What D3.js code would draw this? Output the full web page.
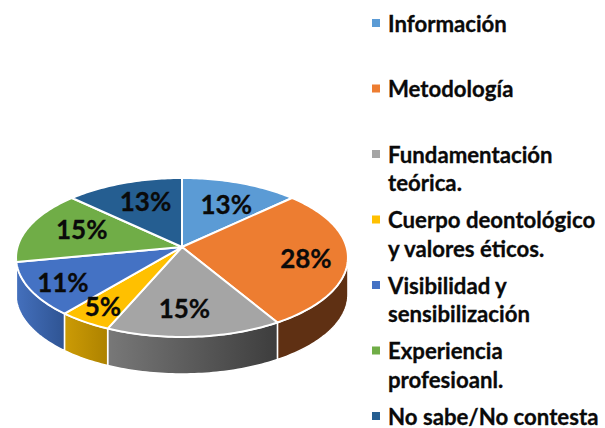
<!DOCTYPE html>
<html>
<head>
<meta charset="utf-8">
<script src="https://cdn.jsdelivr.net/npm/d3@7"></script>
<style>
html, body { margin: 0; padding: 0; background: #fff; overflow: hidden; }
text { font-family: Lato, "Open Sans", sans-serif; font-weight: 700; fill: #0a0a0a; stroke: #0a0a0a; stroke-width: 0.3px; }
</style>
</head>
<body>
<div id="chart"></div>
<script>
var categories = ["Información", "Metodología", "Fundamentación teórica.", "Cuerpo deontológico y valores éticos.", "Visibilidad y sensibilización", "Experiencia profesioanl.", "No sabe/No contesta"];
var legendLines = [["Información"], ["Metodología"], ["Fundamentación", "teórica."], ["Cuerpo deontológico", "y valores éticos."], ["Visibilidad y", "sensibilización"], ["Experiencia", "profesioanl."], ["No sabe/No contesta"]];
var percents = [13, 28.4, 15.1, 4.6, 10.9, 15, 13];
var colors = ["#5b9bd5", "#ed7d31", "#a5a5a5", "#ffc000", "#4472c4", "#70ad47", "#255e91"];
var sideStart = ["#3a6d9c", "#5f3013", "#787878", "#cc9b05", "#4470bd", "#4a7330", "#1a4266"];
var sideEnd = ["#3a6d9c", "#5f3013", "#3d3d3d", "#ad8200", "#2f5493", "#4a7330", "#1a4266"];
// how far out along the radius each % label sits, then a small hand nudge
var labelRadius = [0.72, 0.75, 0.7, 0.82, 0.82, 0.65, 0.6];
var labelDx = [1, 0, -6, -1, 4, 0, 0];
var labelDy = [5, 3, 2, 0, 1, -4, -5];

var width = 605, height = 428;
var persp = 0.132, depth = 37;

var svg = d3.select("#chart").append("svg")
  .attr("width", width)
  .attr("height", height);

var xScale = d3.scaleLinear().domain([-1, 1]).range([17.5, 346.5]);
var yScale = d3.scaleLinear().domain([-1, 1]).range([168.9, 325.1]);

// circle point -> tilted disc, a bit bigger towards the viewer
function project(angle, r) {
  var u = Math.sin(angle) * r,
      v = -Math.cos(angle) * r,
      s = 1 / (1 - persp * v);
  return [xScale(u * s), yScale(v * s)];
}

function arcAngles(a0, a1) {
  var n = Math.max(2, Math.ceil((a1 - a0) / 0.02));
  return d3.range(n + 1).map(function(i) { return a0 + (a1 - a0) * i / n; });
}

var line = d3.line().curve(d3.curveLinearClosed);

var pie = d3.pie().sort(null).value(function(d) { return d; });
var slices = pie(percents);

var defs = svg.append("defs");
slices.forEach(function(d, i) {
  var g = defs.append("linearGradient").attr("id", "side" + i);
  g.append("stop").attr("offset", "0%").attr("stop-color", sideStart[i]);
  g.append("stop").attr("offset", "100%").attr("stop-color", sideEnd[i]);
});

// rim faces the viewer only on the front half
var frontFrom = Math.PI / 2 + Math.asin(persp),
    frontTo = 3 * Math.PI / 2 - Math.asin(persp);

svg.append("g").selectAll("path")
  .data(slices.filter(function(d) {
    return d.endAngle > frontFrom && d.startAngle < frontTo;
  }))
  .enter().append("path")
  .attr("d", function(d) {
    var a0 = Math.max(d.startAngle, frontFrom),
        a1 = Math.min(d.endAngle, frontTo);
    var top = arcAngles(a0, a1).map(function(a) { return project(a, 1); });
    var bottom = top.slice().reverse().map(function(p) { return [p[0], p[1] + depth]; });
    return line(top.concat(bottom));
  })
  .attr("fill", function(d) { return "url(#side" + d.index + ")"; })
  .attr("stroke", "#fff")
  .attr("stroke-width", 1.5)
  .attr("stroke-linejoin", "round");

svg.append("g").selectAll("path")
  .data(slices)
  .enter().append("path")
  .attr("d", function(d) {
    var pts = arcAngles(d.startAngle, d.endAngle).map(function(a) { return project(a, 1); });
    pts.unshift(project(0, 0));
    return line(pts);
  })
  .attr("fill", function(d) { return colors[d.index]; })
  .attr("stroke", "#fff")
  .attr("stroke-width", 2)
  .attr("stroke-linejoin", "round");

svg.append("g").selectAll("text")
  .data(slices)
  .enter().append("text")
  .attr("x", function(d) { return project((d.startAngle + d.endAngle) / 2, labelRadius[d.index])[0] + labelDx[d.index]; })
  .attr("y", function(d) { return project((d.startAngle + d.endAngle) / 2, labelRadius[d.index])[1] + labelDy[d.index]; })
  .attr("dy", "0.36em")
  .attr("text-anchor", "middle")
  .attr("font-size", 26)
  .text(function(d) { return Math.round(d.value) + "%"; });

var legendY = d3.scalePoint().domain(categories).range([24, 417]);

var items = svg.append("g").selectAll("g")
  .data(categories)
  .enter().append("g")
  .attr("transform", function(d) { return "translate(372," + legendY(d) + ")"; });

items.append("rect")
  .attr("y", -5)
  .attr("width", 8)
  .attr("height", 8)
  .attr("fill", function(d, i) { return colors[i]; });

items.selectAll("text")
  .data(function(d, i) { return legendLines[i]; })
  .enter().append("text")
  .attr("x", 16)
  .attr("y", function(d, i) { return 7.5 + i * 28.7; })
  .attr("font-size", 22.2)
  .text(function(d) { return d; });
</script>
</body>
</html>
